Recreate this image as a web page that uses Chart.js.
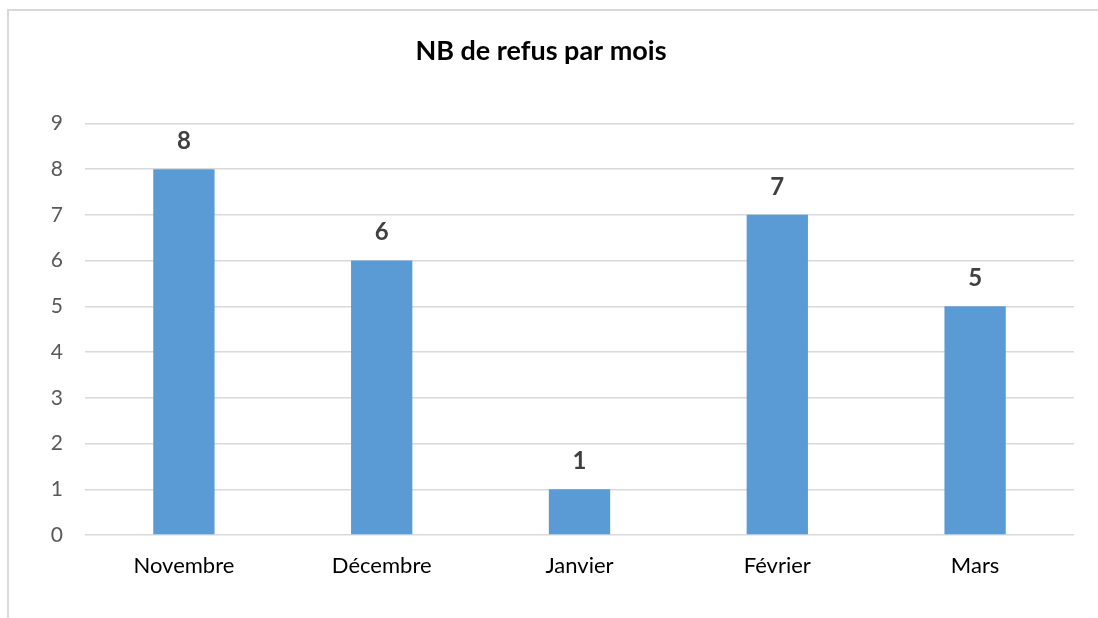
<!DOCTYPE html>
<html>
<head>
<meta charset="utf-8">
<script src="https://cdn.jsdelivr.net/npm/chart.js@4"></script>
<style>
  body { margin: 0; background: #fff; }
  #cadre {
    position: absolute; left: 7px; top: 9px; width: 1200px; height: 700px;
    border-left: 2px solid #d9d9d9; border-top: 2px solid #d9d9d9;
  }
  #zone { position: absolute; left: 0; top: 0; width: 1098px; height: 618px; }
</style>
</head>
<body>
<div id="cadre"></div>
<div id="zone"><canvas id="myChart"></canvas></div>
<script>
'use strict'

const mois = ['Novembre', 'Décembre', 'Janvier', 'Février', 'Mars'];
const refus = [8, 6, 1, 7, 5];
const titre = 'NB de refus par mois';

const police = 'Lato, "Open Sans", sans-serif';

// etiquettes au-dessus des barres
const etiquettes = {
    id: 'etiquettes',
    afterDatasetsDraw(chart) {
        let ctx = chart.ctx;
        let meta = chart.getDatasetMeta(0);
        ctx.save();
        ctx.font = 'bold 24px ' + police;
        ctx.fillStyle = '#404040';
        ctx.textAlign = 'center';
        ctx.textBaseline = 'middle';
        meta.data.forEach((bar, i) => {
            ctx.fillText(refus[i], bar.x, bar.y - 28);
        });
        ctx.restore();
    }
};

var ctx = document.getElementById('myChart').getContext('2d');

var chart = new Chart(ctx, {
    type: 'bar',
    data: {
        labels: mois,
        datasets: [{
            label: 'Refus',
            backgroundColor: '#5b9bd5',
            data: refus,
            categoryPercentage: 1,
            barPercentage: 0.31
        }]
    },
    options: {
        responsive: true,
        maintainAspectRatio: false,
        animation: false,
        layout: { padding: { left: 8, right: 24, top: 0, bottom: 23 } },
        plugins: {
            legend: { display: false },
            tooltip: { enabled: false },
            title: {
                display: true,
                text: titre,
                color: '#000',
                font: { family: police, size: 27, weight: 'bold' },
                padding: { top: 35, bottom: 56 }
            }
        },
        scales: {
            x: {
                grid: { display: false },
                border: { display: false },
                ticks: { color: '#000', font: { family: police, size: 22 }, padding: 10 },
                afterFit(scale) { scale.height = 60; }
            },
            y: {
                min: 0,
                max: 9,
                ticks: { stepSize: 1, color: '#595959', font: { family: police, size: 21 }, padding: 22 },
                grid: { color: '#d9d9d9', lineWidth: 1.5, drawTicks: false },
                border: { display: false },
                afterFit(scale) { scale.width = 77; }
            }
        }
    },
    plugins: [etiquettes]
});
</script>
</body>
</html>
